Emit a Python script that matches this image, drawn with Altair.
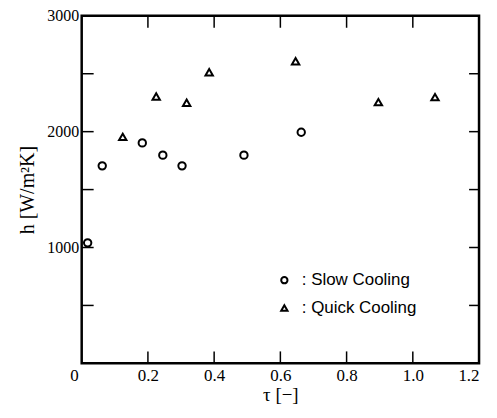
import altair as alt
import pandas as pd

# Slow cooling (circles)
slow_tau = [0.018, 0.062, 0.183, 0.245, 0.303, 0.490, 0.663]
slow_h = [1040, 1705, 1903, 1797, 1705, 1797, 1995]
# Quick cooling (triangles)
quick_tau = [0.124, 0.225, 0.317, 0.385, 0.646, 0.896, 1.067]
quick_h = [1955, 2304, 2250, 2513, 2608, 2255, 2298]

x_labels = [0, 0.2, 0.4, 0.6, 0.8, 1.0, 1.2]
y_labels = [1000, 2000, 3000]
x_minor = [0.2, 0.4, 0.6, 0.8, 1.0]
y_minor = [500, 1000, 1500, 2000, 2500]

W, H = 399, 349

df = pd.DataFrame({
    "tau": slow_tau + quick_tau,
    "h": slow_h + quick_h,
    "series": ["Slow Cooling"] * len(slow_tau) + ["Quick Cooling"] * len(quick_tau),
})

xs = alt.Scale(domain=[0, 1.2], nice=False, zero=False)
ys = alt.Scale(domain=[0, 3000], nice=False, zero=False)

x_axis = alt.Axis(
    values=x_labels, title="τ  [−]", tickSize=0, domain=False, grid=False,
    labelExpr="datum.value == 0 ? '0' : format(datum.value, '.1f')",
    labelOffset={"expr": "datum.value == 0 ? -12 : 0"},
    labelFont="Liberation Serif", labelFontSize=17, labelColor="black", labelPadding=4,
    titleFont="Liberation Serif", titleFontSize=19, titleFontWeight="normal", titleColor="black",
    titlePadding=2)
y_axis = alt.Axis(
    values=y_labels, title="h [W/m²K]", tickSize=0, domain=False, grid=False, format="d",
    labelFont="Liberation Serif", labelFontSize=16, labelColor="black", labelPadding=3,
    titleFont="Liberation Serif", titleFontSize=20, titleFontWeight="normal", titleColor="black",
    titlePadding=9)

points = alt.Chart(df).mark_point(filled=False, stroke="black", strokeWidth=2, size=55, opacity=1).encode(
    x=alt.X("tau:Q", scale=xs, axis=x_axis),
    y=alt.Y("h:Q", scale=ys, axis=y_axis),
    shape=alt.Shape("series:N", scale=alt.Scale(domain=["Slow Cooling", "Quick Cooling"],
                                                 range=["circle", "triangle-up"]),
                    legend=alt.Legend(orient="none", legendX=195, legendY=257, title=None,
                                      labelExpr="':  ' + datum.label",
                                      labelFont="Liberation Sans", labelFontSize=17,
                                      labelColor="black", symbolStrokeColor="black",
                                      symbolFillColor="transparent", symbolStrokeWidth=2,
                                      symbolSize=40, rowPadding=10, labelOffset=9)),
)

xt = pd.DataFrame({"tau": x_minor})
yt = pd.DataFrame({"h": y_minor})

xb = alt.Chart(xt).mark_rule(color="black", strokeWidth=1.5).encode(
    x=alt.X("tau:Q", scale=xs, axis=x_axis), y=alt.value(H), y2=alt.value(H - 12))
xtp = alt.Chart(xt).mark_rule(color="black", strokeWidth=1.5).encode(
    x=alt.X("tau:Q", scale=xs, axis=x_axis), y=alt.value(0), y2=alt.value(12))
yl = alt.Chart(yt).mark_rule(color="black", strokeWidth=1.5).encode(
    y=alt.Y("h:Q", scale=ys, axis=y_axis), x=alt.value(0), x2=alt.value(12))
yr = alt.Chart(yt).mark_rule(color="black", strokeWidth=1.5).encode(
    y=alt.Y("h:Q", scale=ys, axis=y_axis), x=alt.value(W), x2=alt.value(W - 10))

chart = alt.layer(points, xb, xtp, yl, yr).properties(
    width=W, height=H,
    background="white",
    autosize=alt.AutoSizeParams(type="none"),
    padding={"left": 74, "top": 7, "right": 10, "bottom": 46},
).configure_view(stroke="black", strokeWidth=2.5)

chart.save("out.html", embed_options={"renderer": "svg", "actions": False})
